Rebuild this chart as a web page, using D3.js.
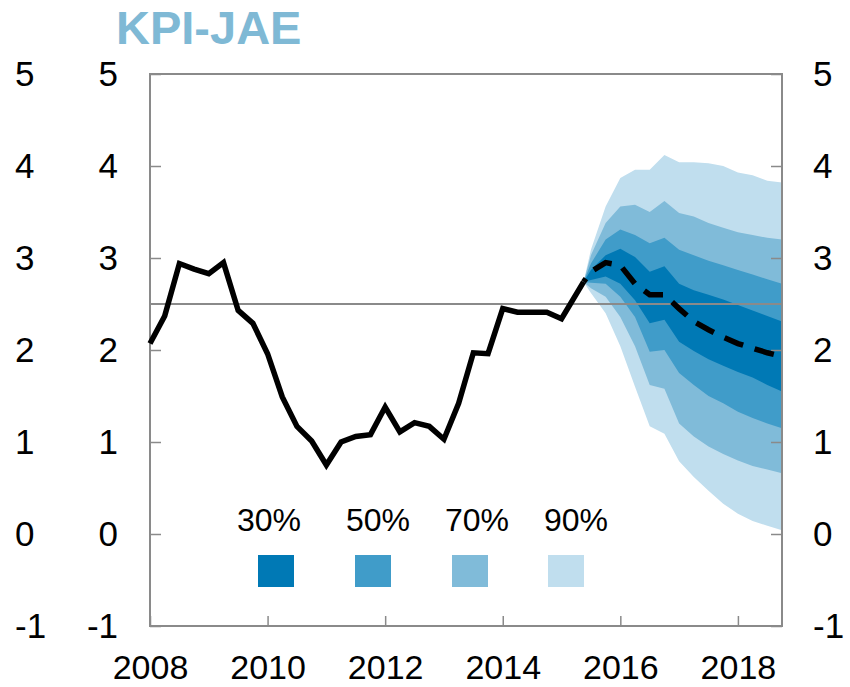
<!DOCTYPE html>
<html>
<head>
<meta charset="utf-8">
<script src="https://cdn.jsdelivr.net/npm/d3@7/dist/d3.min.js"></script>
<style>
  html, body { margin: 0; padding: 0; background: #fff; }
  svg { display: block; }
  text { font-family: "Liberation Sans", Arial, sans-serif; }
</style>
</head>
<body>
<svg id="chart" width="850" height="687"></svg>
<script>
// ---------- data ----------
const title = "KPI-JAE";
const yTicks = [-1, 0, 1, 2, 3, 4, 5];
const xTicks = [2008, 2010, 2012, 2014, 2016, 2018];
const refLevel = 2.5;

// historical (quarterly from 2008Q1), last point = start of forecast
const histValues = [2.07, 2.37, 2.94, 2.88, 2.83, 2.95, 2.43, 2.29, 1.96, 1.49,
                    1.17, 1.01, 0.75, 1.00, 1.06, 1.08, 1.38, 1.11, 1.21, 1.17,
                    1.03, 1.42, 1.97, 1.96, 2.45, 2.41, 2.41, 2.41, 2.34, 2.74];
const histDates = d3.range(29).map(i => 2008 + i * 0.25).concat([2015.375]);

// forecast fan
const fcDates = [2015.375, 2015.5, 2015.75, 2016.0, 2016.25, 2016.5, 2016.75, 2017.0,
                 2017.25, 2017.5, 2017.75, 2018.0, 2018.25, 2018.5, 2018.75];
const median = [2.74, 2.85, 2.95, 2.92, 2.72, 2.60, 2.60, 2.45, 2.31, 2.22, 2.14, 2.07, 2.02, 1.97, 1.93];
const hi90 = [2.74, 3.09, 3.56, 3.87, 3.96, 3.96, 4.12, 4.04, 4.04, 4.03, 4.00, 3.93, 3.90, 3.84, 3.82];
const hi70 = [2.74, 3.03, 3.38, 3.56, 3.58, 3.50, 3.62, 3.49, 3.45, 3.38, 3.33, 3.28, 3.25, 3.22, 3.20];
const hi50 = [2.74, 2.94, 3.20, 3.31, 3.25, 3.16, 3.22, 3.09, 3.03, 2.97, 2.92, 2.87, 2.82, 2.77, 2.72];
const hi30 = [2.74, 2.87, 3.03, 3.10, 3.01, 2.85, 2.91, 2.72, 2.65, 2.60, 2.55, 2.49, 2.43, 2.37, 2.31];
const lo30 = [2.74, 2.76, 2.80, 2.72, 2.54, 2.29, 2.33, 2.09, 1.99, 1.90, 1.83, 1.76, 1.70, 1.62, 1.55];
const lo50 = [2.74, 2.73, 2.72, 2.58, 2.36, 1.98, 2.00, 1.75, 1.62, 1.50, 1.42, 1.33, 1.26, 1.20, 1.15];
const lo70 = [2.74, 2.67, 2.58, 2.36, 2.04, 1.62, 1.58, 1.20, 1.06, 0.95, 0.87, 0.80, 0.74, 0.70, 0.66];
const lo90 = [2.74, 2.62, 2.40, 2.04, 1.60, 1.17, 1.09, 0.79, 0.62, 0.47, 0.33, 0.22, 0.14, 0.09, 0.04];

const bandLabels = ["30%", "50%", "70%", "90%"];
const bandColors = ["#0079b5", "#409cc9", "#80bbd9", "#c0deee"];
const bandLo = [lo30, lo50, lo70, lo90];
const bandHi = [hi30, hi50, hi70, hi90];

// ---------- layout ----------
const svg = d3.select("#chart");
const L = 150, R = 782, T = 74, B = 626;
const x = d3.scaleLinear().domain([2008, 2018.75]).range([L, R]);
const y = d3.scaleLinear().domain([-1, 5]).range([B, T]);
const axisColor = "#8a8a8a";
const fontSize = 35;
const fmt = d => String(d);

// fan bands (widest first)
for (let b = 3; b >= 0; b--) {
  const lo = bandLo[b], hi = bandHi[b];
  const area = d3.area()
    .x((d, i) => x(fcDates[i]))
    .y0((d, i) => y(lo[i]))
    .y1((d, i) => y(hi[i]));
  svg.append("path").datum(fcDates).attr("d", area).attr("fill", bandColors[b]);
}

// reference line
svg.append("line")
  .attr("x1", L).attr("x2", R)
  .attr("y1", y(refLevel)).attr("y2", y(refLevel))
  .attr("stroke", axisColor).attr("stroke-width", 2);

// frame
svg.append("rect")
  .attr("x", L).attr("y", T).attr("width", R - L).attr("height", B - T)
  .attr("fill", "none").attr("stroke", axisColor).attr("stroke-width", 2);

// axes
const styleAxis = (fs) => g => {
  g.select(".domain").remove();
  g.selectAll(".tick line").attr("stroke", axisColor).attr("stroke-width", 1.5);
  g.selectAll("text").attr("fill", "#000").style("font-size", fs + "px")
    .style("font-family", "'Liberation Sans', Arial, sans-serif");
};

svg.append("g").attr("transform", `translate(${L},0)`)
  .call(d3.axisLeft(y).tickValues(yTicks).tickFormat(fmt)
    .tickSizeInner(-11).tickSizeOuter(0).tickPadding(32))
  .call(styleAxis(fontSize));

svg.append("g").attr("transform", `translate(${R},0)`)
  .call(d3.axisRight(y).tickValues(yTicks).tickFormat(fmt)
    .tickSizeInner(-11).tickSizeOuter(0).tickPadding(31))
  .call(styleAxis(fontSize));

svg.append("g").attr("transform", `translate(0,${B})`)
  .call(d3.axisBottom(x).tickValues(xTicks).tickFormat(fmt)
    .tickSizeInner(-10).tickSizeOuter(0).tickPadding(29))
  .call(styleAxis(34));

// outer left column of labels
svg.append("g").selectAll("text").data(yTicks).join("text")
  .attr("x", 15).attr("y", d => y(d)).attr("dy", "0.355em")
  .attr("text-anchor", "start").style("font-size", fontSize + "px").attr("fill", "#000")
  .text(fmt);

// historical line
svg.append("path").datum(histValues)
  .attr("d", d3.line().x((d, i) => x(histDates[i])).y(d => y(d)))
  .attr("fill", "none").attr("stroke", "#000").attr("stroke-width", 5.5)
  .attr("stroke-linejoin", "miter");

// forecast median (dashed)
svg.append("path").datum(median)
  .attr("d", d3.line().x((d, i) => x(fcDates[i])).y(d => y(d)))
  .attr("fill", "none").attr("stroke", "#000").attr("stroke-width", 5.5)
  .attr("stroke-dasharray", "20,12").attr("stroke-dashoffset", 32 - 16);

// title
svg.append("text").attr("x", 116).attr("y", 44)
  .style("font-size", "47px").style("font-weight", "bold").attr("fill", "#7fb9d5")
  .text(title);

// legend
const legLabelX = [269, 378, 477, 576];
const legBoxX = [276, 373, 470, 566];
const leg = svg.append("g").selectAll("g").data(bandLabels).join("g");
leg.append("text")
  .attr("x", (d, i) => legLabelX[i]).attr("y", 531).attr("text-anchor", "middle")
  .style("font-size", "32px").attr("fill", "#000").text(d => d);
leg.append("rect")
  .attr("x", (d, i) => legBoxX[i] - 18).attr("y", 555).attr("width", 36).attr("height", 32)
  .attr("fill", (d, i) => bandColors[i]);
</script>
</body>
</html>
